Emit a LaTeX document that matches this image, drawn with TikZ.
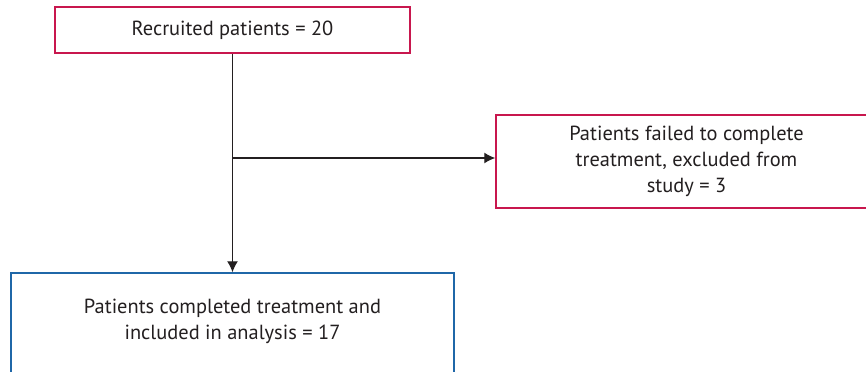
\documentclass[tikz,border=0pt]{standalone}
\usepackage{fontspec}
\setmainfont{PT Sans}
\usetikzlibrary{arrows.meta}
\definecolor{crim}{HTML}{C8174E}
\definecolor{blu}{HTML}{1F67A8}
\definecolor{ink}{HTML}{231F20}
\tikzset{txt/.style={text=ink, align=center, font=\fontsize{20.5}{26}\selectfont}}
\begin{document}
\begin{tikzpicture}[x=1bp,y=-1bp,
  box/.style={draw, line width=1.5bp, fill=white, inner sep=0pt, txt},
  redbox/.style={box, draw=crim},
  bluebox/.style={box, draw=blu},
  conn/.style={draw=ink, line width=1.2bp, -{Latex[length=11bp,width=11bp]}}]
\useasboundingbox (0,0) rectangle (866,371);
\clip (0,0) rectangle (866,371);
\node[redbox, minimum width=355bp, minimum height=46bp] (top) at (232.5,30) {Recruited patients = 20};
\node[redbox, minimum width=381bp, minimum height=93bp] (excl) at (686.5,161.5) {Patients failed to complete\\treatment, excluded from\\study = 3};
\node[bluebox, minimum width=443bp, minimum height=104bp] (incl) at (232.5,325) {};
\node[txt] (incltext) at (232.5,321) {Patients completed treatment and\\included in analysis = 17};
\coordinate (j) at (232.5,158);
\draw[conn] (top.south) -- (incl.north);
\draw[conn] (j) -- (j -| excl.west);
\end{tikzpicture}
\end{document}
